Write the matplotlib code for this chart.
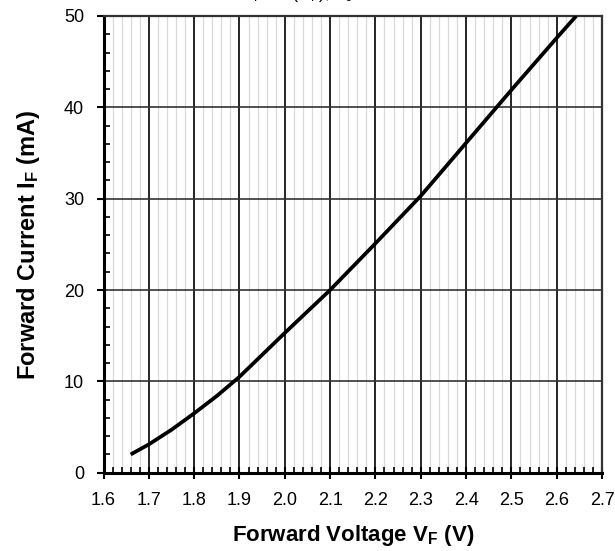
import matplotlib
matplotlib.use("Agg")
import matplotlib.pyplot as plt
from matplotlib.ticker import MultipleLocator, FormatStrFormatter

# forward voltage (V) vs forward current (mA)
v_f = [1.66, 1.70, 1.75, 1.80, 1.85, 1.90, 2.00, 2.10, 2.20, 2.30, 2.40, 2.50, 2.60, 2.643]
i_f = [2.0, 3.1, 4.7, 6.5, 8.4, 10.5, 15.3, 20.0, 25.1, 30.3, 36.1, 41.9, 47.6, 50.0]

title_text = r"I$_F$ = f (V$_F$), T$_J$ = 25°C"
x_label = r"Forward Voltage V$_\mathbf{F}$ (V)"
y_label = r"Forward Current I$_\mathbf{F}$ (mA)"

plt.rcParams['font.family'] = ['Liberation Sans', 'DejaVu Sans']
plt.rcParams['mathtext.fontset'] = 'custom'
plt.rcParams['mathtext.rm'] = 'Liberation Sans'
plt.rcParams['mathtext.it'] = 'Liberation Sans'
plt.rcParams['mathtext.bf'] = 'Liberation Sans:bold'

fig = plt.figure(figsize=(6.15, 5.51), dpi=100)
ax = fig.add_axes([0.1683, 0.1421, 0.8106, 0.8289])

ax.plot(v_f, i_f, color='black', linewidth=2.7, solid_capstyle='butt', zorder=5)

ax.set_xlim(1.6, 2.7)
ax.set_ylim(0, 50)
ax.xaxis.set_major_locator(MultipleLocator(0.1))
ax.xaxis.set_minor_locator(MultipleLocator(0.02))
ax.xaxis.set_major_formatter(FormatStrFormatter('%.1f'))
ax.yaxis.set_major_locator(MultipleLocator(10))
ax.yaxis.set_minor_locator(MultipleLocator(2))

# grid: dark majors both ways, light vertical minors only
ax.grid(True, which='major', axis='x', color='black', linewidth=1.2)
ax.grid(True, which='major', axis='y', color='#333333', linewidth=1.2)
ax.grid(True, which='minor', axis='x', color='#d9d9d9', linewidth=0.9)
ax.set_axisbelow(True)

ax.tick_params(which='major', direction='inout', length=8, width=1.5, labelsize=13, pad=10)
ax.tick_params(which='minor', direction='in', length=4, width=1.2)
ax.tick_params(axis='y', which='major', direction='out', length=5, pad=9)

for side in ['left', 'bottom']:
    ax.spines[side].set_linewidth(2.2)
for side in ['top', 'right']:
    ax.spines[side].set_linewidth(1.6)
    ax.spines[side].set_color('#333333')

ax.set_xlabel(x_label, fontsize=16, fontweight='bold', labelpad=10)
ax.set_ylabel(y_label, fontsize=17, fontweight='bold', labelpad=16)

# title sits mostly above the page, only its lower edge shows
fig.text(248 / 615, 1 + 1.5 / 551, title_text, fontsize=13, ha='left', va='baseline')

fig.savefig('out.png', dpi=100)
